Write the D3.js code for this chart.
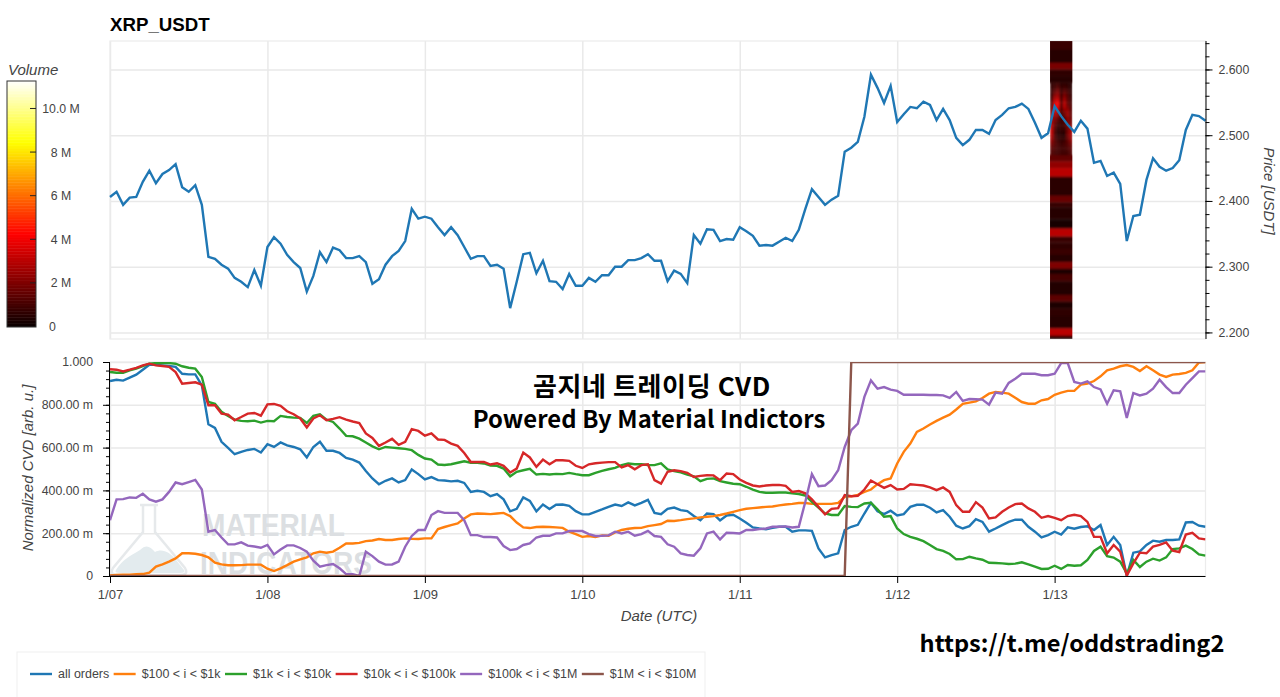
<!DOCTYPE html>
<html>
<head>
  <meta charset="utf-8">
  <script src="https://d3js.org/d3.v7.min.js"></script>
  <style>
    body { margin: 0; background: #fff; }
    text { font-family: "Liberation Sans", Arial, sans-serif; }
    .tick text { font-size: 12.3px; fill: #444; }
    .date-axis .tick text { font-size: 13px; }
    .grid line { stroke: #e9e9e9; stroke-width: 1.5; }
    .grid path, .grid text { display: none; }
    .minor text, .minor path { display: none; }
    .axis-title { font-size: 15px; font-style: italic; fill: #444; }
    .big { font-family: "Noto Sans CJK KR", sans-serif; font-weight: 700; fill: #000; }
  </style>
</head>
<body>
<script>
// hourly samples from 1/07 00:00 to 1/13 23:00 UTC
var startDate = Date.UTC(2025, 0, 7);
var dayLabels = ["1/07", "1/08", "1/09", "1/10", "1/11", "1/12", "1/13"];

var price = [
  2.406,2.414,2.394,2.405,2.406,2.429,2.446,2.427,2.441,2.447,2.456,2.421,2.414,2.424,2.394,2.315,2.312,2.303,2.297,2.283,2.277,2.269,2.295,2.271,
  2.330,2.345,2.335,2.318,2.307,2.298,2.262,2.286,2.322,2.307,2.329,2.325,2.313,2.313,2.316,2.307,2.274,2.281,2.303,2.316,2.324,2.339,2.388,2.373,
  2.376,2.373,2.360,2.348,2.360,2.348,2.330,2.312,2.316,2.316,2.301,2.303,2.297,2.237,2.277,2.319,2.321,2.290,2.309,2.278,2.277,2.266,2.289,2.271,
  2.271,2.283,2.277,2.287,2.287,2.300,2.300,2.310,2.310,2.313,2.319,2.309,2.309,2.278,2.294,2.289,2.275,2.348,2.335,2.357,2.356,2.339,2.342,2.341,
  2.360,2.354,2.347,2.332,2.333,2.332,2.338,2.344,2.339,2.356,2.388,2.418,2.406,2.394,2.402,2.408,2.475,2.481,2.490,2.528,2.592,2.572,2.549,2.575,
  2.520,2.532,2.543,2.541,2.551,2.546,2.523,2.540,2.523,2.496,2.485,2.493,2.508,2.508,2.502,2.523,2.531,2.541,2.543,2.548,2.540,2.519,2.496,2.503,
  2.544,2.529,2.516,2.505,2.522,2.510,2.458,2.461,2.438,2.443,2.426,2.339,2.377,2.379,2.432,2.465,2.452,2.446,2.450,2.462,2.508,2.531,2.529,2.522
];

// normalized CVD, in thousandths
var cvdAll = [
  911,917,913,927,941,964,987,987,984,981,977,945,942,942,891,709,692,627,599,569,580,589,594,577,
  616,603,624,610,603,592,554,603,627,585,585,575,552,544,530,491,456,429,445,456,437,448,498,476,
  451,462,448,446,442,445,435,393,398,393,373,383,358,302,314,367,351,302,334,313,333,334,328,303,
  288,288,300,311,323,334,327,344,330,342,356,295,289,314,320,308,303,280,261,292,289,260,283,286,
  269,249,227,222,218,225,230,230,207,213,213,211,129,87,98,106,215,230,239,292,342,303,289,305,
  283,289,323,333,333,319,297,308,277,235,222,233,266,253,207,222,238,253,263,263,230,207,180,191,
  207,194,227,221,229,232,215,238,145,183,145,0,109,115,145,165,160,168,168,171,250,252,235,230
];
var cvd100 = [
  2,5,6,6,8,9,16,44,54,67,82,106,106,104,98,87,62,54,50,50,51,53,53,53,
  34,23,36,51,67,78,87,106,114,109,114,132,152,152,155,163,166,173,168,168,173,176,174,173,
  176,176,219,229,238,246,269,288,292,291,289,292,295,280,250,227,224,229,230,229,227,225,207,196,
  183,187,182,190,188,204,215,221,224,225,233,238,243,258,257,261,266,269,274,277,280,285,292,300,
  308,314,317,320,323,325,330,334,337,341,341,337,337,337,337,342,370,372,379,393,404,429,448,456,
  526,580,619,673,689,708,725,740,754,778,804,810,816,832,852,860,857,852,833,813,805,805,821,827,
  847,857,865,865,894,899,911,933,961,969,980,986,977,958,980,961,941,930,941,944,949,961,998,1000
];
var cvd1k = [
  953,950,950,961,969,981,992,995,995,995,992,980,973,969,930,813,805,767,748,731,725,723,726,717,
  725,723,748,743,740,739,715,748,756,731,720,689,655,653,642,624,606,592,603,600,597,594,588,566,
  549,544,521,519,522,529,536,529,529,526,516,515,502,466,487,494,501,474,477,474,477,476,482,476,
  471,471,482,491,499,505,518,526,522,522,519,518,526,498,490,484,474,466,443,454,456,443,437,431,
  429,417,404,393,389,389,390,390,386,383,376,347,320,292,285,285,327,323,322,339,342,311,277,280,
  222,196,183,174,163,145,126,117,103,78,79,90,82,76,62,61,59,56,58,64,54,44,33,34,
  48,33,51,48,50,75,117,137,93,86,67,12,75,42,67,81,72,87,126,129,142,126,101,95
];
var cvd10k = [
  966,964,956,964,973,984,992,984,981,977,953,899,902,905,894,798,798,759,754,728,743,759,762,749,
  802,804,795,770,756,736,694,736,751,728,734,742,731,722,715,666,645,608,624,641,613,627,686,678,
  656,667,638,636,619,608,575,533,533,533,521,527,515,484,502,577,554,510,544,522,541,541,538,515,
  505,522,527,530,532,532,507,518,499,518,522,448,432,487,494,490,482,463,468,471,470,448,479,476,
  451,435,423,418,423,425,426,421,393,397,386,358,323,288,314,317,378,373,375,404,446,429,412,425,
  404,407,429,426,423,414,401,414,393,331,300,300,345,320,269,274,300,320,336,339,316,300,272,280,
  272,261,280,286,280,253,183,183,106,145,114,2,59,109,106,137,145,157,118,112,194,202,176,171
];
var cvd100k = [
  261,358,359,367,365,384,358,347,358,393,437,429,439,449,404,207,215,180,148,148,157,142,138,132,
  145,101,124,143,143,131,114,72,44,51,56,36,9,8,0,114,93,67,53,54,67,137,187,215,
  215,285,303,295,295,295,261,191,191,182,182,180,140,121,126,145,152,180,188,188,199,199,210,210,
  210,196,187,188,190,207,199,207,188,196,211,187,183,148,137,106,98,95,129,199,207,171,202,201,
  199,215,215,219,222,230,230,232,227,230,347,476,420,423,448,494,603,681,712,837,914,875,883,871,
  865,847,847,847,847,846,846,844,832,860,818,827,826,824,801,857,852,902,922,945,945,945,938,938,
  945,995,995,907,899,910,883,872,805,868,863,739,855,844,852,875,917,883,855,855,894,925,956,956
];
var cvd1M = [
  0,0,0,0,0,0,0,0,0,0,0,0,0,0,0,0,0,0,0,0,0,0,0,0,
  0,0,0,0,0,0,0,0,0,0,0,0,0,0,0,0,0,0,0,0,0,0,0,0,
  0,0,0,0,0,0,0,0,0,0,0,0,0,0,0,0,0,0,0,0,0,0,0,0,
  0,0,0,0,0,0,0,0,0,0,0,0,0,0,0,0,0,0,0,0,0,0,0,0,
  0,0,0,0,0,0,0,0,0,0,0,0,0,0,0,0,0,1000,1000,1000,1000,1000,1000,1000,
  1000,1000,1000,1000,1000,1000,1000,1000,1000,1000,1000,1000,1000,1000,1000,1000,1000,1000,1000,1000,1000,1000,1000,1000,
  1000,1000,1000,1000,1000,1000,1000,1000,1000,1000,1000,1000,1000,1000,1000,1000,1000,1000,1000,1000,1000,1000,1000,1000
];

var seriesNames = ["all orders", "$100 < i < $1k", "$1k < i < $10k", "$10k < i < $100k", "$100k < i < $1M", "$1M < i < $10M"];
var seriesValues = [cvdAll, cvd100, cvd1k, cvd10k, cvd100k, cvd1M];
var seriesColors = ["#1f77b4", "#ff7f0e", "#2ca02c", "#d62728", "#9467bd", "#8c564b"];

// volume heatmap: hours covered by the strip
var heatStartHour = 143.3;
var heatEndHour = 146.7;
// full width bands: [upper price, lower price, volume in M]
var volumeBands = [
  [2.645,2.630,0.8],[2.630,2.610,0.45],[2.610,2.600,1.9],[2.600,2.590,0.6],[2.590,2.580,0.5],
  [2.470,2.460,1.5],[2.460,2.450,2.3],[2.450,2.437,3.0],[2.437,2.408,0.55],[2.408,2.398,1.6],
  [2.398,2.390,0.7],[2.390,2.372,0.45],[2.372,2.358,0.15],[2.358,2.346,3.0],[2.346,2.337,0.8],
  [2.337,2.327,0.6],[2.327,2.318,0.8],[2.318,2.307,0.5],[2.307,2.297,2.0],[2.297,2.289,0.3],
  [2.289,2.278,1.0],[2.278,2.257,0.4],[2.257,2.247,1.4],[2.247,2.237,0.3],[2.237,2.225,0.6],
  [2.225,2.206,0.5],[2.206,2.195,3.0],[2.195,2.190,0.4]
];
// finer grid around the spike, rows go down from 2.580 in 0.005 steps, 7 columns
var gridTopPrice = 2.580;
var gridStep = 0.005;
var volumeGrid = [
  [0.6,0.8,0.9,0.6,0.7,0.6,0.5],[0.6,1.0,1.3,0.7,0.9,0.8,0.5],[0.7,1.4,1.8,0.8,1.3,1.0,0.6],
  [0.8,1.9,2.3,0.9,1.8,1.2,0.7],[0.9,2.5,2.8,1.0,2.2,1.4,0.8],[1.0,3.1,3.5,1.1,2.6,1.5,0.9],
  [1.2,3.6,4.1,1.2,3.0,1.6,1.1],[1.5,4.1,3.7,1.2,2.8,2.0,1.2],[1.9,3.6,3.0,1.1,2.2,2.4,1.4],
  [2.2,2.8,2.3,0.9,1.7,2.5,1.5],[2.4,2.3,1.7,0.8,1.4,2.3,1.6],[2.6,1.9,1.2,0.8,1.2,2.1,1.8],
  [2.8,1.6,0.9,0.8,1.1,1.9,2.0],[3.0,1.4,0.7,0.8,0.9,1.7,2.3],[3.1,1.2,0.5,0.7,0.7,1.7,2.5],
  [3.1,1.1,0.5,0.6,0.5,1.8,2.6],[2.8,1.2,0.6,0.6,0.6,1.7,2.5],[2.4,1.3,0.8,0.7,0.8,1.5,2.2],
  [2.0,1.3,1.0,0.8,1.0,1.3,1.8],[1.6,1.2,1.0,0.9,1.0,1.2,1.5],[1.3,1.1,0.9,0.9,0.9,1.1,1.3],
  [1.2,1.0,0.9,0.9,0.9,1.0,1.2]
];
var volumeTicks = [0, 2, 4, 6, 8, 10];
var volumeMax = 11.26;

var priceTicks = [2.2, 2.3, 2.4, 2.5, 2.6];
var priceMinorTicks = d3.range(2.2, 2.641, 0.02);
var cvdTicks = [0, 200, 400, 600, 800, 1000];
var cvdMinorTicks = d3.range(0, 1001, 40);

var HOUR = 3600 * 1000;
var hourDate = function (i) { return new Date(startDate + i * HOUR); };
var dayDates = dayLabels.map(function (d, i) { return hourDate(i * 24); });

var svg = d3.select("body").append("svg")
    .attr("width", 1280)
    .attr("height", 697)
    .style("display", "block");

var left = 110, right = 1205.5;
var x = d3.scaleUtc().domain([hourDate(0), hourDate(167)]).range([left, right]);
var yPrice = d3.scaleLinear().domain([2.190, 2.6433]).range([339, 41]);
var yCvd = d3.scaleLinear().domain([0, 1000]).range([576, 362]);
var yVolume = d3.scaleLinear().domain([0, volumeMax]).range([326.5, 81]);
var color = d3.scaleLinear()
    .domain([0, 4.2, 8.4, volumeMax])
    .range(["#0b0000", "#ff0000", "#ffff00", "#ffffff"])
    .clamp(true);

svg.append("text")
    .attr("x", left).attr("y", 31)
    .style("font-size", "18.7px").style("font-weight", "bold")
    .text("XRP_USDT");

// ---- colour bar
var levels = d3.range(0, volumeMax, volumeMax / 160);
svg.append("g").selectAll("rect").data(levels).enter().append("rect")
    .attr("x", 7).attr("width", 29)
    .attr("y", function (d) { return yVolume(d + volumeMax / 160); })
    .attr("height", 2)
    .attr("fill", function (d) { return color(d); });
svg.append("rect")
    .attr("x", 7).attr("y", 81).attr("width", 29).attr("height", 246)
    .attr("fill", "none").attr("stroke", "#333").attr("stroke-width", 1);
svg.append("text").attr("class", "axis-title").attr("x", 8).attr("y", 75).text("Volume");
var volTick = svg.append("g").selectAll("g").data(volumeTicks).enter().append("g");
volTick.append("line")
    .attr("x1", 30).attr("x2", 36)
    .attr("y1", function (d) { return yVolume(d); })
    .attr("y2", function (d) { return yVolume(d); })
    .attr("stroke", function (d) { return d == 0 ? "none" : "#222"; });
volTick.append("text")
    .attr("x", function (d) { return d == 0 ? 52.5 : 61; })
    .attr("y", function (d) { return yVolume(d) + 4.5; })
    .attr("text-anchor", "middle")
    .style("font-size", "12.3px").style("fill", "#444")
    .text(function (d) { return d == 0 ? "0" : (d == 10 ? "10.0 M" : d + " M"); });

// ---- grids
function gridX(g, y0, y1) {
  g.append("g").attr("class", "grid")
      .attr("transform", "translate(0," + y1 + ")")
      .call(d3.axisBottom(x).tickValues(dayDates).tickSize(y0 - y1).tickFormat(""));
}
var gridTop = svg.append("g");
gridX(gridTop, 41, 339);
gridTop.append("g").attr("class", "grid")
    .attr("transform", "translate(" + left + ",0)")
    .call(d3.axisRight(yPrice).tickValues(priceTicks).tickSize(right - left).tickFormat(""));
gridTop.append("rect")
    .attr("x", left).attr("y", 41).attr("width", right - left).attr("height", 298)
    .attr("fill", "none").attr("stroke", "#ececec").attr("stroke-width", 1.2);

var gridBottom = svg.append("g");
gridX(gridBottom, 362, 576);
gridBottom.append("g").attr("class", "grid")
    .attr("transform", "translate(" + left + ",0)")
    .call(d3.axisRight(yCvd).tickValues(cvdTicks.slice(1)).tickSize(right - left).tickFormat(""));
gridBottom.append("rect")
    .attr("x", left).attr("y", 362).attr("width", right - left).attr("height", 214)
    .attr("fill", "none").attr("stroke", "#ececec").attr("stroke-width", 1.2);

// ---- heatmap strip
var heatX0 = x(hourDate(heatStartHour)), heatX1 = x(hourDate(heatEndHour));
var columnScale = d3.scaleBand().domain(d3.range(7)).range([heatX0, heatX1]);
var defs = svg.append("defs");
defs.append("filter").attr("id", "soft")
    .attr("x", "-10%").attr("y", "-2%").attr("width", "120%").attr("height", "104%")
    .append("feGaussianBlur").attr("stdDeviation", 0.9);
defs.append("clipPath").attr("id", "stripClip").append("rect")
    .attr("x", heatX0).attr("y", 41).attr("width", heatX1 - heatX0).attr("height", 298);
defs.append("clipPath").attr("id", "cvdClip").append("rect")
    .attr("x", left).attr("y", yCvd(1000)).attr("width", right - left).attr("height", yCvd(0) - yCvd(1000));

var heat = svg.append("g").attr("clip-path", "url(#stripClip)")
    .append("g").attr("filter", "url(#soft)");
heat.selectAll("rect.band").data(volumeBands).enter().append("rect")
    .attr("class", "band")
    .attr("x", heatX0 - 4).attr("width", heatX1 - heatX0 + 8)
    .attr("y", function (d) { return yPrice(d[0]); })
    .attr("height", function (d) { return yPrice(d[1]) - yPrice(d[0]) + 0.3; })
    .attr("fill", function (d) { return color(d[2]); });
heat.selectAll("g.row").data(volumeGrid).enter().append("g")
    .attr("class", "row")
    .each(function (row, r) {
      var top = gridTopPrice - r * gridStep;
      d3.select(this).selectAll("rect").data(row).enter().append("rect")
          .attr("x", function (d, c) { return columnScale(c); })
          .attr("width", columnScale.bandwidth() + 0.3)
          .attr("y", yPrice(top))
          .attr("height", yPrice(top - gridStep) - yPrice(top) + 0.3)
          .attr("fill", function (d) { return color(d); });
    });

// ---- watermark sits under the lines
var mark = svg.append("g");
mark.append("path")
    .attr("d", "M116,570 C122,560 130,556 140,550 C146,544 150,546 155,552 C162,548 170,552 176,560 L184,570 Q186,573 180,573 L120,573 Q114,573 116,570 Z")
    .attr("fill", "#e3ebee");
mark.append("path")
    .attr("d", "M140,505 L158,505 M143,505 L143,532 L113,568 Q109,575 118,575 L180,575 Q189,575 185,568 L155,532 L155,505")
    .attr("fill", "none").attr("stroke", "#e6e9eb").attr("stroke-width", 2.5);
mark.append("text")
    .attr("x", 202).attr("y", 536)
    .attr("textLength", 143).attr("lengthAdjust", "spacingAndGlyphs")
    .style("font-size", "32px").style("font-weight", "bold").style("fill", "#dcdfe2")
    .text("MATERIAL");
mark.append("text")
    .attr("x", 200).attr("y", 574)
    .attr("textLength", 172).attr("lengthAdjust", "spacingAndGlyphs")
    .style("font-size", "32px").style("font-weight", "bold").style("fill", "#dcdfe2")
    .text("INDICATORS");

// ---- lines
var priceLine = d3.line()
    .x(function (d, i) { return x(hourDate(i)); })
    .y(function (d) { return yPrice(d); });
svg.append("path").datum(price)
    .attr("d", priceLine)
    .attr("fill", "none").attr("stroke", "#1f77b4").attr("stroke-width", 2.4);

// the plot frame cuts the lines at 0 and at 1.000
var cvdLine = d3.line()
    .x(function (d, i) { return x(hourDate(i)); })
    .y(function (d) { return yCvd(d); });
svg.append("g").attr("clip-path", "url(#cvdClip)")
    .selectAll("path").data(seriesValues).enter().append("path")
    .attr("d", cvdLine)
    .attr("fill", "none")
    .attr("stroke", function (d, i) { return seriesColors[i]; })
    .attr("stroke-width", 2.4);

// ---- axes
svg.append("g")
    .attr("class", "minor")
    .attr("transform", "translate(" + right + ",0)")
    .call(d3.axisRight(yPrice).tickValues(priceMinorTicks).tickSize(4).tickFormat(""));
svg.append("g")
    .attr("transform", "translate(" + right + ",0)")
    .call(d3.axisRight(yPrice).tickValues(priceTicks).tickSize(7).tickPadding(6).tickFormat(d3.format(".3f")))
    .call(function (g) { g.select(".domain").attr("d", "M0.5,41V339"); });

var cvdFormat = function (d) {
  if (d == 0) return "0";
  if (d == 1000) return "1.000";
  return d3.format(".2f")(d) + " m";
};
svg.append("g")
    .attr("class", "minor")
    .attr("transform", "translate(" + left + ",0)")
    .call(d3.axisLeft(yCvd).tickValues(cvdMinorTicks).tickSize(4).tickFormat(""));
svg.append("g")
    .attr("transform", "translate(" + left + ",0)")
    .call(d3.axisLeft(yCvd).tickValues(cvdTicks).tickSize(7).tickPadding(10).tickFormat(cvdFormat))
    .call(function (g) { g.select(".domain").attr("d", "M-0.5,362V576"); });

svg.append("g")
    .attr("class", "date-axis")
    .attr("transform", "translate(0,576)")
    .call(d3.axisBottom(x).tickValues(dayDates).tickSize(7).tickPadding(7)
        .tickFormat(function (d, i) { return dayLabels[i]; }))
    .call(function (g) { g.select(".domain").attr("d", "M" + left + ",0.5H" + right); });

svg.append("text").attr("class", "axis-title")
    .attr("transform", "translate(1264,191) rotate(90)")
    .attr("text-anchor", "middle")
    .text("Price [USDT]");
svg.append("text").attr("class", "axis-title")
    .attr("transform", "translate(33,468) rotate(-90)")
    .attr("text-anchor", "middle")
    .text("Normalized CVD [arb. u.]");
svg.append("text").attr("class", "axis-title")
    .attr("x", 659).attr("y", 621)
    .attr("text-anchor", "middle")
    .text("Date (UTC)");

// ---- overlay captions
svg.append("text").attr("class", "big")
    .attr("x", 652).attr("y", 396).attr("text-anchor", "middle")
    .style("font-size", "26px").style("letter-spacing", "0.6px")
    .text("곰지네 트레이딩 CVD");
svg.append("text").attr("class", "big")
    .attr("x", 649).attr("y", 428).attr("text-anchor", "middle")
    .style("font-size", "23.8px").style("letter-spacing", "0.1px")
    .text("Powered By Material Indictors");
svg.append("text").attr("class", "big")
    .attr("x", 1072).attr("y", 652).attr("text-anchor", "middle")
    .style("font-size", "23.6px")
    .text("https://t.me/oddstrading2");

// ---- legend, cut off by the bottom of the picture like the source
svg.append("rect")
    .attr("x", 17).attr("y", 652).attr("width", 688).attr("height", 60)
    .attr("fill", "#fff").attr("stroke", "#efefef");
var legendX = 30;
seriesNames.forEach(function (name, i) {
  svg.append("line")
      .attr("x1", legendX).attr("x2", legendX + 22)
      .attr("y1", 674).attr("y2", 674)
      .attr("stroke", seriesColors[i]).attr("stroke-width", 2.4);
  var label = svg.append("text")
      .attr("x", legendX + 28).attr("y", 678)
      .style("font-size", "12.45px").style("fill", "#444")
      .text(name);
  legendX += 28 + label.node().getComputedTextLength() + 4.5;
});
</script>
</body>
</html>
